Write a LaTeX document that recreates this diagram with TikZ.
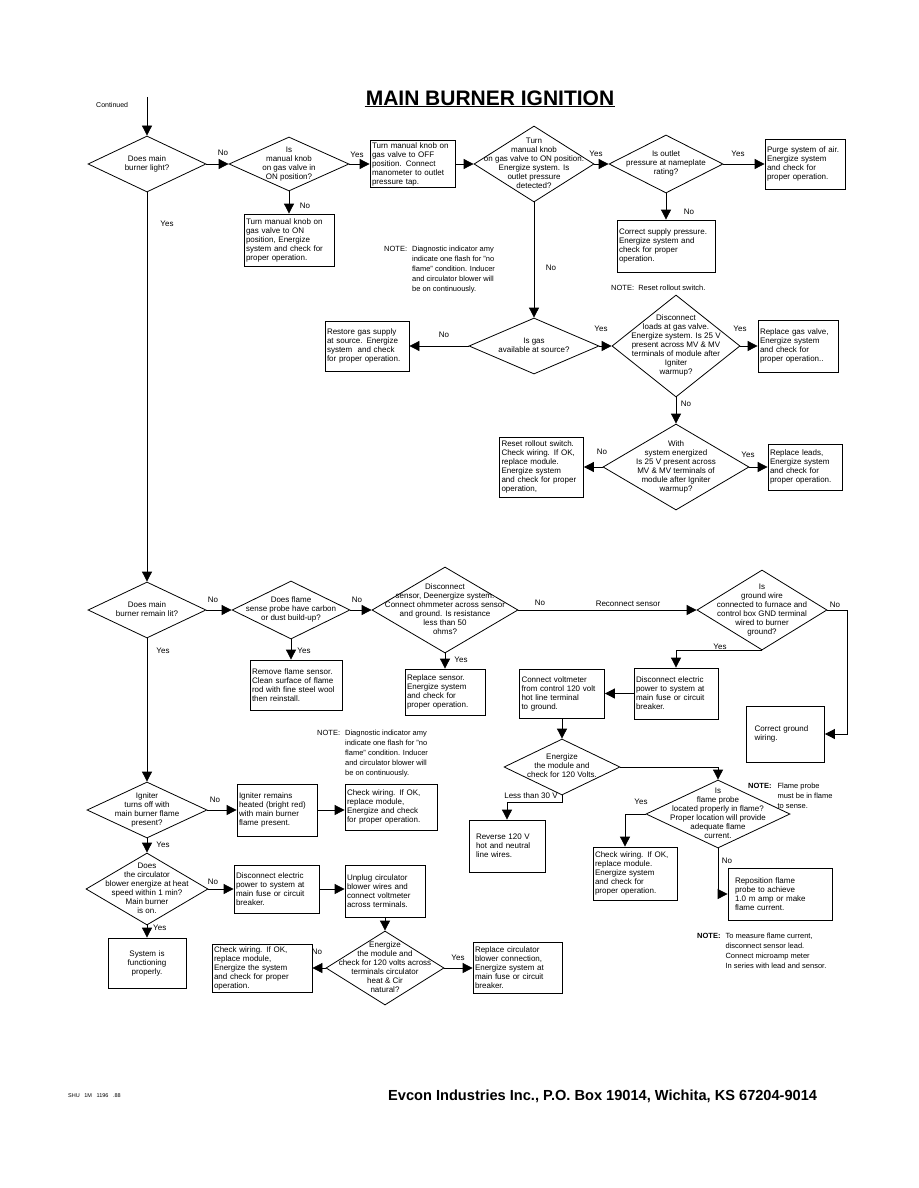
\documentclass[tikz,border=0pt]{standalone}
\usepackage{fontspec}
\setmainfont{Liberation Sans}
\usepackage{tikz}
\usetikzlibrary{arrows.meta,shapes.geometric}

% text of a decision, not counted in the diamond size
\newcommand{\dtxt}[1]{\smash{\raisebox{-2pt}{\makebox[0pt]{\begin{tabular}{@{}c@{}}#1\end{tabular}}}}}

\begin{document}
\begin{tikzpicture}[x=1pt,y=-1pt,font=\fontsize{8}{9}\selectfont]
	\tikzstyle{decision} = [diamond, draw, line width=0.8pt, inner sep=0]
	\tikzstyle{box} = [rectangle, draw, line width=0.8pt, inner sep=2pt, align=left]
	\tikzstyle{flow} = [-{Triangle[length=10pt,width=10pt]}, line width=0.8pt]
	\tikzstyle{lbl} = [inner sep=0]
	\tikzstyle{note} = [inner sep=0, anchor=north west, font=\fontsize{7.5}{10}\selectfont]
	\useasboundingbox (0,0) rectangle (918,1188);

	\node[inner sep=1pt, font=\bfseries\fontsize{21}{24}\selectfont] (title) at (490,98) {MAIN BURNER IGNITION};
	\draw[line width=1.6pt] (title.south west) -- (title.south east);
	\node[lbl, anchor=west, font=\fontsize{7}{8}\selectfont] (cont) at (96,105) {Continued};
	\coordinate (cin) at (147,97);

	% first row
	\node[decision, minimum width=118pt, minimum height=56pt] (d1) at (147,164) {\dtxt{Does main\\burner light?}};
	\node[decision, minimum width=120pt, minimum height=54pt] (d2) at (289,164) {\dtxt{Is\\manual knob\\on gas valve in\\ON position?}};
	\node[box, text width=81pt, minimum height=47pt] (b1) at (412.5,164) {Turn manual knob on\\gas valve to OFF\\position. Connect\\manometer to outlet\\pressure tap.};
	\node[decision, minimum width=120pt, minimum height=76pt] (d3) at (534,164) {\dtxt{Turn\\manual knob\\on gas valve to ON position.\\Energize system. Is\\outlet pressure\\detected?}};
	\node[decision, minimum width=114pt, minimum height=58pt] (d4) at (666,164) {\dtxt{Is outlet\\pressure at nameplate\\rating?}};
	\node[box, text width=76pt, minimum height=50pt] (b2) at (805,164) {Purge system of air.\\Energize system\\and check for\\proper operation.};
	\node[box, text width=86pt, minimum height=52pt] (b4) at (289,240) {Turn manual knob on\\gas valve to ON\\position, Energize\\system and check for\\proper operation.};
	\node[box, text width=94pt, minimum height=52pt] (b3) at (666,246) {Correct supply pressure.\\Energize system and\\check for proper\\operation.};

	\node[note] (note1) at (384,244) {\begin{tabular}{@{}l@{\hspace{5pt}}l@{}}NOTE: & Diagnostic indicator amy\\ & indicate one flash for "no\\ & flame" condition. Inducer\\ & and circulator blower will\\ & be on continuously.\end{tabular}};
	\node[lbl, anchor=west, font=\fontsize{7.5}{9}\selectfont] (note2) at (611,288) {NOTE:\ \ Reset rollout switch.};

	% gas supply
	\node[box, text width=80pt, minimum height=50pt] (b5) at (367,346) {Restore gas supply\\at source. Energize\\system\ \ and check\\for proper operation.};
	\node[decision, minimum width=130pt, minimum height=56pt] (d5) at (534,346) {\dtxt{Is gas\\available at source?}};
	\node[decision, minimum width=128pt, minimum height=102pt] (d7) at (676,346) {\dtxt{Disconnect\\loads at gas valve.\\Energize system. Is 25 V\\present across MV \& MV\\terminals of module after\\Igniter\\warmup?}};
	\node[box, text width=76pt, minimum height=52pt] (b6) at (798,346) {Replace gas valve,\\Energize system\\and check for\\proper operation..};
	\node[box, text width=80pt, minimum height=60pt] (b7) at (541.5,467) {Reset rollout switch.\\Check wiring. If OK,\\replace module.\\Energize system\\and check for proper\\operation,};
	\node[decision, minimum width=146pt, minimum height=86pt] (d8) at (676,467) {\dtxt{With\\system energized\\Is 25 V present across\\MV \& MV terminals of\\module after Igniter\\warmup?}};
	\node[box, text width=70pt, minimum height=46pt] (b8) at (805,467) {Replace leads,\\Energize system\\and check for\\proper operation.};

	% second part
	\node[decision, minimum width=118pt, minimum height=56pt] (d6) at (147,610) {\dtxt{Does main\\burner remain lit?}};
	\node[decision, minimum width=118pt, minimum height=58pt] (d9) at (291,610) {\dtxt{Does flame\\sense probe have carbon\\or dust build-up?}};
	\node[decision, minimum width=146pt, minimum height=86pt] (d10) at (445,610) {\dtxt{Disconnect\\sensor, Deenergize system.\\Connect ohmmeter across sensor\\and ground. Is resistance\\less than 50\\ohms?}};
	\node[decision, minimum width=130pt, minimum height=80pt] (d11) at (762,610) {\dtxt{Is\\ground wire\\connected to furnace and\\control box GND terminal\\wired to burner\\ground?}};
	\node[box, text width=88pt, minimum height=50pt] (b9) at (296,685) {Remove flame sensor.\\Clean surface of flame\\rod with fine steel wool\\then reinstall.};
	\node[box, text width=76pt, minimum height=46pt] (b10) at (445,692) {Replace sensor.\\Energize system\\and check for\\proper operation.};
	\node[box, text width=62pt, minimum height=56pt, inner xsep=8pt] (b11) at (785.5,734) {Correct ground\\wiring.};
	\node[box, text width=80pt, minimum height=51pt] (b12) at (676,693.5) {Disconnect electric\\power to system at\\main fuse or circuit\\breaker.};
	\node[box, text width=81pt, minimum height=49pt] (b13) at (562,693.5) {Connect voltmeter\\from control 120 volt\\hot line terminal\\to ground.};
	\node[decision, minimum width=116pt, minimum height=56pt] (d12) at (562,767) {\dtxt{Energize\\the module and\\check for 120 Volts.}};
	\node[box, text width=62pt, minimum height=52pt, inner xsep=7pt] (b14) at (507,846) {Reverse 120 V\\hot and neutral\\line wires.};
	\node[decision, minimum width=144pt, minimum height=68pt] (d13) at (718,814) {\dtxt{Is\\flame probe\\located properly in flame?\\Proper location will provide\\adequate flame\\current.}};
	\node[box, text width=80pt, minimum height=53pt] (b15) at (635,873.5) {Check wiring. If OK,\\replace module.\\Energize system\\and check for\\proper operation.};
	\node[box, text width=90pt, minimum height=52pt, inner xsep=7pt] (b16) at (780,894) {Reposition flame\\probe to achieve\\1.0 m amp or make\\flame current.};
	\node[note] (note3) at (748,781) {\begin{tabular}{@{}l@{\hspace{6pt}}l@{}}\textbf{NOTE:} & Flame probe\\ & must be in flame\\ & to sense.\end{tabular}};
	\node[note] (note4) at (697,931) {\begin{tabular}{@{}l@{\hspace{5pt}}l@{}}\textbf{NOTE:} & To measure flame current,\\ & disconnect sensor lead.\\ & Connect microamp meter\\ & In series with lead and sensor.\end{tabular}};
	\node[note] (note5) at (317,728) {\begin{tabular}{@{}l@{\hspace{5pt}}l@{}}NOTE: & Diagnostic indicator amy\\ & indicate one flash for "no\\ & flame" condition. Inducer\\ & and circulator blower will\\ & be on continuously.\end{tabular}};

	% igniter and blower
	\node[decision, minimum width=120pt, minimum height=56pt] (d14) at (147,810) {\dtxt{Igniter\\turns off with\\main burner flame\\present?}};
	\node[box, text width=76pt, minimum height=52pt] (b17) at (277,810) {Igniter remains\\heated (bright red)\\with main burner\\flame present.};
	\node[box, text width=88pt, minimum height=46pt] (b18) at (391,807) {Check wiring. If OK,\\replace module,\\Energize and check\\for proper operation.};
	\node[decision, minimum width=122pt, minimum height=72pt] (d15) at (147,889) {\dtxt{Does\\the circulator\\blower energize at heat\\speed within 1 min?\\Main burner\\is on.}};
	\node[box, text width=81pt, minimum height=48pt] (b19) at (276.5,889) {Disconnect electric\\power to system at\\main fuse or circuit\\breaker.};
	\node[box, text width=76pt, minimum height=52pt] (b20) at (385,891) {Unplug circulator\\blower wires and\\connect voltmeter\\across terminals.};
	\node[decision, minimum width=118pt, minimum height=74pt] (d16) at (385,968) {\dtxt{Energize\\the module and\\check for 120 volts across\\terminals circulator\\heat \& Cir\\natural?}};
	\node[box, text width=96pt, minimum height=48pt] (b21) at (262,968) {Check wiring. If OK,\\replace module,\\Energize the system\\and check for proper\\operation.};
	\node[box, text width=85pt, minimum height=51pt] (b22) at (517.5,968) {Replace circulator\\blower connection,\\Energize system at\\main fuse or circuit\\breaker.};
	\node[box, text width=74pt, minimum height=50pt, align=center] (b23) at (147,963) {System is\\functioning\\properly.};

	\node[lbl, anchor=west, font=\fontsize{5.5}{6}\selectfont] (code) at (68,1096) {SHU\ \ \ 1M\ \ \ 1196\ \ \ .88};
	\node[lbl, anchor=west, font=\bfseries\fontsize{14.6}{16}\selectfont] (footer) at (388,1096) {Evcon Industries Inc., P.O. Box 19014, Wichita, KS 67204-9014};

	% connectors
	\draw[flow] (cin) -- (d1.north);
	\draw[flow] (d1.east) -- (d2.west);
	\draw[flow] (d2.east) -- (b1.west);
	\draw[flow] (b1.east) -- (d3.west);
	\draw[flow] (d3.east) -- (d4.west);
	\draw[flow] (d4.east) -- (b2.west);
	\draw[flow] (d4.south) -- (b3.north);
	\draw[flow] (d2.south) -- (b4.north);
	\draw[flow] (d1.south) -- (d6.north);
	\draw[flow] (d3.south) -- (d5.north);
	\draw[flow] (d5.west) -- (b5.east);
	\draw[flow] (d5.east) -- (d7.west);
	\draw[flow] (d7.east) -- (b6.west);
	\draw[flow] (d7.south) -- (d8.north);
	\draw[flow] (d8.west) -- (b7.east);
	\draw[flow] (d8.east) -- (b8.west);
	\draw[flow] (d6.east) -- (d9.west);
	\draw[flow] (d9.east) -- (d10.west);
	\draw[flow] (d9.south) -- (d9.south |- b9.north);
	\draw[flow] (d10.south) -- (b10.north);
	\draw[flow] (d10.east) -- (d11.west);
	\draw[flow] (d11.east) -- ++(20,0) |- (b11.east);
	\draw[flow] (d11.south) -| (b12.north);
	\draw[flow] (b12.west) -- (b13.east);
	\draw[flow] (b13.south) -- (d12.north);
	\draw[flow] (d12.south) -- ++(0,7) -| (b14.north);
	\draw[flow] (d12.east) -| (d13.north);
	\draw[flow] (d13.west) -| ([xshift=-10pt]b15.north);
	\draw[flow] (d13.south) |- (b16.west);
	\draw[flow] (d6.south) -- (d14.north);
	\draw[flow] (d14.east) -- (b17.west);
	\draw[flow] (b17.east) -- (b17.east -| b18.west);
	\draw[flow] (d14.south) -- (d15.north);
	\draw[flow] (d15.east) -- (b19.west);
	\draw[flow] (b19.east) -- (b19.east -| b20.west);
	\draw[flow] (b20.south) -- (d16.north);
	\draw[flow] (d16.west) -- (b21.east);
	\draw[flow] (d16.east) -- (b22.west);
	\draw[flow] (d15.south) -- (b23.north);

	% answers
	\node[lbl] (l1) at (223,153) {No};
	\node[lbl] (l2) at (357,155) {Yes};
	\node[lbl] (l3) at (596,154) {Yes};
	\node[lbl] (l4) at (738,154) {Yes};
	\node[lbl] (l5) at (689,212) {No};
	\node[lbl] (l6) at (305,206) {No};
	\node[lbl] (l7) at (167,224) {Yes};
	\node[lbl] (l8) at (551,268) {No};
	\node[lbl] (l9) at (444,335) {No};
	\node[lbl] (l10) at (601,329) {Yes};
	\node[lbl] (l11) at (740,329) {Yes};
	\node[lbl] (l12) at (686,404) {No};
	\node[lbl] (l13) at (602,452) {No};
	\node[lbl] (l14) at (748,455) {Yes};
	\node[lbl] (l15) at (213,600) {No};
	\node[lbl] (l16) at (357,600) {No};
	\node[lbl] (l17) at (304,651) {Yes};
	\node[lbl] (l18) at (461,660) {Yes};
	\node[lbl] (l19) at (540,603) {No};
	\node[lbl] (l20) at (628,604) {Reconnect sensor};
	\node[lbl] (l21) at (835,605) {No};
	\node[lbl] (l22) at (720,647) {Yes};
	\node[lbl] (l23) at (531,796) {Less than 30 V};
	\node[lbl] (l24) at (641,802) {Yes};
	\node[lbl] (l25) at (727,861) {No};
	\node[lbl] (l26) at (163,651) {Yes};
	\node[lbl] (l27) at (215,800) {No};
	\node[lbl] (l28) at (163,845) {Yes};
	\node[lbl] (l29) at (213,882) {No};
	\node[lbl] (l30) at (317,952) {No};
	\node[lbl] (l31) at (458,958) {Yes};
	\node[lbl, anchor=west] (l32) at (153,928) {Yes};
\end{tikzpicture}
\end{document}
